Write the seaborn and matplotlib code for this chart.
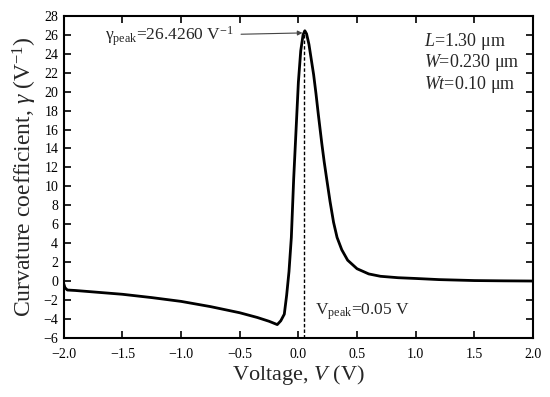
import numpy as np
import pandas as pd
import matplotlib
matplotlib.use("Agg")
import matplotlib.pyplot as plt
import seaborn as sns

voltage = [-2.00, -1.99, -1.97, -1.9, -1.75, -1.5, -1.25, -1.0, -0.75, -0.5, -0.35, -0.25,
           -0.18, -0.15, -0.12, -0.10, -0.08, -0.06, -0.04, -0.02, 0.0, 0.02, 0.04,
           0.055, 0.07, 0.09, 0.11, 0.13, 0.15, 0.17, 0.2, 0.22, 0.24, 0.27, 0.3,
           0.33, 0.37, 0.42, 0.5, 0.6, 0.7, 0.85, 1.0, 1.2, 1.5, 1.75, 2.0]
gamma = [-0.3, -0.7, -0.95, -1.0, -1.15, -1.4, -1.75, -2.15, -2.7, -3.35, -3.85, -4.25,
         -4.6, -4.2, -3.5, -1.5, 1.0, 4.6, 10.8, 15.9, 21.0, 24.3, 26.0,
         26.43, 26.1, 25.0, 23.4, 21.8, 19.8, 17.6, 14.5, 12.6, 10.9, 8.4, 6.2,
         4.6, 3.3, 2.2, 1.3, 0.75, 0.5, 0.35, 0.27, 0.15, 0.05, 0.02, 0.0]
x_ticks = [-2.0, -1.5, -1.0, -0.5, 0.0, 0.5, 1.0, 1.5, 2.0]
y_ticks = list(range(-6, 29, 2))
v_peak = 0.05
gamma_peak = 26.426
params = ["$\\mathit{L}$=1.30 μm", "$\\mathit{W}$=0.230 μm", "$\\mathit{Wt}$=0.10 μm"]

sns.set_style("ticks")
plt.rcParams["font.family"] = ["Liberation Serif", "DejaVu Serif"]
plt.rcParams["mathtext.fontset"] = "custom"
plt.rcParams["mathtext.rm"] = "Liberation Serif"
plt.rcParams["mathtext.it"] = "Liberation Serif:italic"
plt.rcParams["axes.unicode_minus"] = True

fig = plt.figure(figsize=(5.5, 3.97), dpi=100)
ax = fig.add_axes([0.116, 0.149, 0.853, 0.811])

df = pd.DataFrame({"V": voltage, "g": gamma})
sns.lineplot(data=df, x="V", y="g", color="black", linewidth=2.0, estimator=None,
             sort=False, ax=ax)

ax.plot([v_peak, v_peak], [-6, gamma_peak], linestyle=(0, (2.5, 1.5)), color="black",
        linewidth=1.0)

ax.set_xlim(-2.0, 2.0)
ax.set_ylim(-6, 28)
ax.set_xticks(x_ticks)
ax.set_xticklabels([f"{t:.1f}".replace("-", "\u2212") for t in x_ticks])
ax.set_yticks(y_ticks)
ax.set_yticklabels([str(t).replace("-", "\u2212") for t in y_ticks])
ax.tick_params(direction="in", length=5, width=1.2, top=True, right=True,
               labelsize=10, colors="black")
ax.tick_params(axis="x", labeltop=False, pad=7)
ax.tick_params(axis="y", labelright=False, pad=4)
for s in ax.spines.values():
    s.set_linewidth(1.5)
    s.set_color("black")

ax.set_xlabel("Voltage, $\\mathit{V}$ (V)", fontsize=16, labelpad=2)
ax.set_ylabel("Curvature coefficient, $\\mathit{γ}$ (V$^{\\mathregular{−1}}$)", fontsize=17, labelpad=3)

ax.annotate("γ$_{\\mathregular{peak}}$=26.4260 V$^{\\mathregular{−1}}$",
            xy=(0.035, 26.2), xytext=(-1.65, 25.9),
            ha="left", va="center", fontsize=12.5,
            arrowprops=dict(arrowstyle="-|>", color="#444444", lw=0.8,
                            shrinkA=3, shrinkB=0, mutation_scale=7))

ax.text(0.145, -3.2, "V$_{\\mathregular{peak}}$=0.05 V", ha="left", va="center", fontsize=12.5)

for i, p in enumerate(params):
    ax.text(1.07, 25.3 - 2.25 * i, p, ha="left", va="center", fontsize=13)

fig.savefig("out.png", dpi=100)
